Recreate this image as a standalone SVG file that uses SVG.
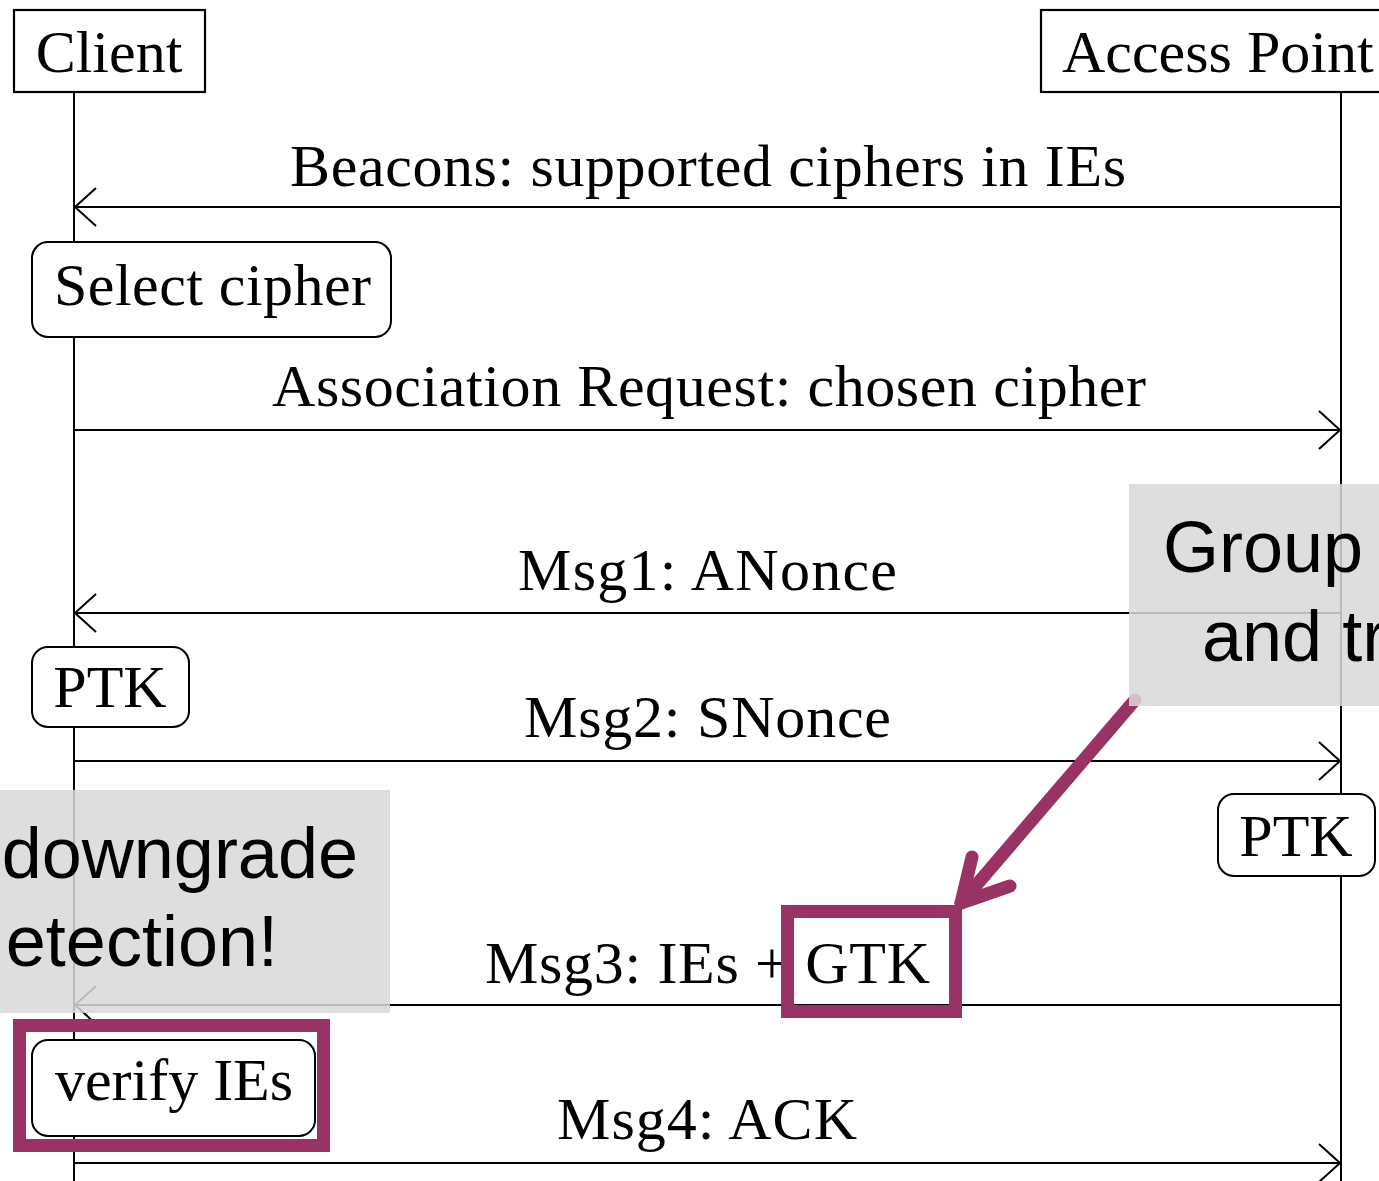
<svg xmlns="http://www.w3.org/2000/svg" width="1379" height="1181" viewBox="0 0 1379 1181">
  <style>
    .serif { font-family: "Liberation Serif", "Times New Roman", serif; font-size: 60px; fill: #000; }
    .sans { font-family: "Liberation Sans", Arial, sans-serif; font-size: 72px; fill: #000; }
    .mid { text-anchor: middle; }
    .life { stroke: #000; stroke-width: 2; fill: none; }
    .msg { stroke: #000; stroke-width: 2.2; fill: none; marker-end: url(#open); }
    .actor { fill: #fff; stroke: #000; stroke-width: 2.2; }
    .step { fill: #fff; stroke: #000; stroke-width: 2; }
    .hl { fill: none; stroke: #993366; stroke-width: 13; }
    .note { fill: #d9d9d9; fill-opacity: 0.86; }
  </style>
  <defs>
    <marker id="open" markerUnits="userSpaceOnUse" markerWidth="30" markerHeight="44" viewBox="-24 -22 26 44" refX="0" refY="0" orient="auto" overflow="visible">
      <path d="M -21 -19 L 0 0 L -21 19" fill="none" stroke="#000" stroke-width="2"/>
    </marker>
  </defs>

  <rect width="1379" height="1181" fill="#fff"/>

  <!-- lifelines -->
  <g id="lifelines">
    <line class="life" x1="74" y1="92" x2="74" y2="1181"/>
    <line class="life" x1="1341" y1="92" x2="1341" y2="1181"/>
  </g>

  <!-- messages -->
  <g id="connectors">
    <line class="msg" x1="1341" y1="207" x2="75" y2="207"/>
    <line class="msg" x1="74" y1="430" x2="1340" y2="430"/>
    <line class="msg" x1="1341" y1="613" x2="75" y2="613"/>
    <line class="msg" x1="74" y1="761" x2="1340" y2="761"/>
    <line class="msg" x1="1341" y1="1005" x2="75" y2="1005"/>
    <line class="msg" x1="74" y1="1163" x2="1340" y2="1163"/>
  </g>

  <g id="labels">
    <text class="serif mid" x="708" y="186" textLength="836" lengthAdjust="spacing">Beacons: supported ciphers in IEs</text>
    <text class="serif mid" x="709" y="406" textLength="874" lengthAdjust="spacing">Association Request: chosen cipher</text>
    <text class="serif mid" x="707.5" y="590" textLength="379" lengthAdjust="spacing">Msg1: ANonce</text>
    <text class="serif mid" x="707.5" y="737" textLength="367" lengthAdjust="spacing">Msg2: SNonce</text>
    <text class="serif mid" x="707.5" y="983" textLength="445" lengthAdjust="spacing">Msg3: IEs + GTK</text>
    <text class="serif mid" x="707" y="1139" textLength="300" lengthAdjust="spacing">Msg4: ACK</text>
  </g>

  <!-- actors -->
  <g id="client">
    <rect class="actor" x="14" y="10" width="191" height="82"/>
    <text class="serif mid" x="109" y="72">Client</text>
  </g>
  <g id="access-point">
    <rect class="actor" x="1041" y="10" width="360" height="82"/>
    <text class="serif" x="1062" y="72">Access Point</text>
  </g>

  <!-- local steps -->
  <g id="select-cipher">
    <rect class="step" x="32" y="242" width="359" height="95" rx="16"/>
    <text class="serif mid" x="212.5" y="305" textLength="317" lengthAdjust="spacing">Select cipher</text>
  </g>
  <g id="ptk-client">
    <rect class="step" x="32" y="647" width="157" height="80" rx="16"/>
    <text class="serif mid" x="110" y="707">PTK</text>
  </g>
  <g id="ptk-ap">
    <rect class="step" x="1218" y="794" width="157" height="82" rx="16"/>
    <text class="serif mid" x="1296" y="856">PTK</text>
  </g>
  <g id="verify-ies">
    <rect class="step" x="32" y="1040" width="283" height="96" rx="16"/>
    <text class="serif mid" x="174" y="1100">verify IEs</text>
  </g>

  <!-- highlights -->
  <g id="highlights">
    <rect class="hl" x="787.5" y="911.5" width="168" height="100"/>
    <rect class="hl" x="19.5" y="1025.5" width="304" height="120"/>
    <path d="M 1135 700 L 961 903" fill="none" stroke="#993366" stroke-width="13" stroke-linecap="round"/>
    <path d="M 972 857 L 961 903 L 1010 886" fill="none" stroke="#993366" stroke-width="13" stroke-linecap="round" stroke-linejoin="round"/>
  </g>

  <!-- callouts -->
  <g id="note-group">
    <rect class="note" x="1129" y="484" width="260" height="222"/>
    <text class="sans" x="1163" y="572">Group</text>
    <text class="sans" x="1202" y="661">and tr</text>
  </g>
  <g id="note-downgrade">
    <rect class="note" x="0" y="790" width="390" height="223"/>
    <text class="sans" x="358" y="878" text-anchor="end">downgrade</text>
    <text class="sans" x="278" y="966" text-anchor="end">etection!</text>
  </g>
</svg>
